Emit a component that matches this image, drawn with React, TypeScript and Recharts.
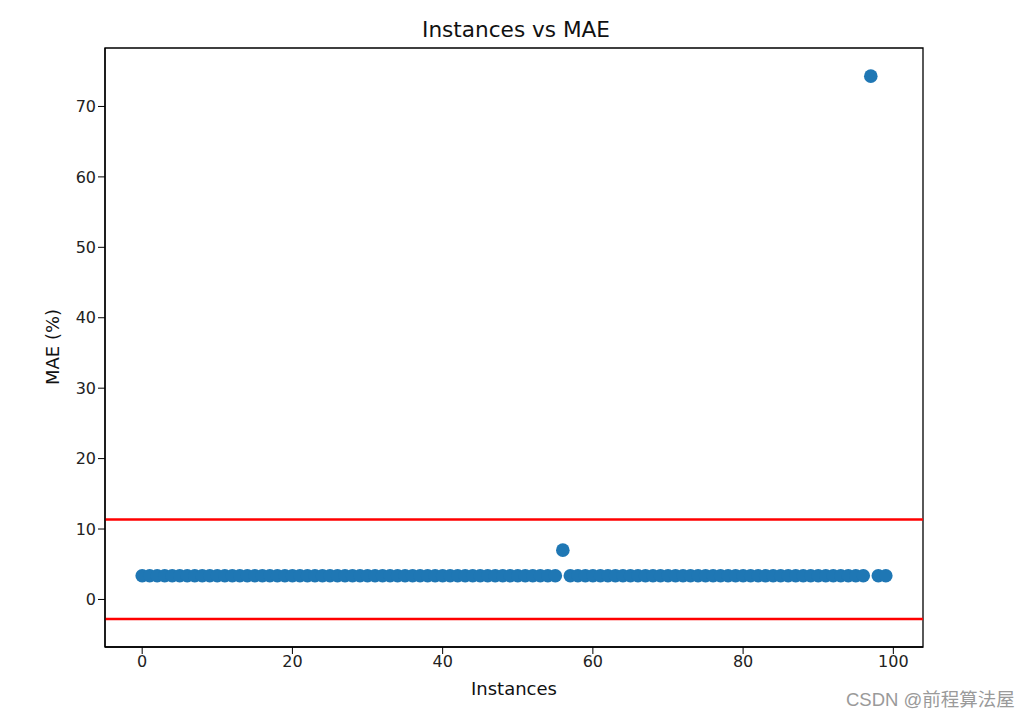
import React from 'react';
import { ScatterChart, Scatter, XAxis, YAxis, ReferenceLine, ReferenceArea } from 'recharts';

// MAE per instance (%)
const instances: number[] = Array.from({ length: 100 }, (_, i) => i);
const baseMae = 3.36;
const outliers: Record<number, number> = { 56: 7.0, 97: 74.3 };
const maeValues: number[] = instances.map(i => (i in outliers ? outliers[i] : baseMae));

const upperBound = 11.35;
const lowerBound = -2.76;

const xTicks = [0, 20, 40, 60, 80, 100];
const yTicks = [0, 10, 20, 30, 40, 50, 60, 70];

const data = instances.map((x, i) => ({ x, y: maeValues[i] }));

const font = '"DejaVu Sans", sans-serif';
const X_DOMAIN: [number, number] = [-4.95, 103.95];
const Y_DOMAIN: [number, number] = [-6.75, 78.3];

const Dot = (props: any) => <circle cx={props.cx} cy={props.cy} r={6.8} fill="#1f77b4" />;

export default function App() {
  return (
    <div style={{ position: 'absolute', left: 0, top: 0, width: 1033, height: 716, background: '#fff', fontFamily: font }}>
      <ScatterChart width={1033} height={716} margin={{ top: 48, right: 110, bottom: 29, left: 50 }}>
        <XAxis
          type="number"
          dataKey="x"
          domain={X_DOMAIN}
          ticks={xTicks}
          allowDataOverflow
          height={40}
          tick={{ fill: '#222', fontSize: 16, fontFamily: font }}
          tickSize={7}
          tickLine={{ stroke: '#000' }}
          axisLine={{ stroke: '#000', strokeWidth: 1.3 }}
        />
        <YAxis
          type="number"
          dataKey="y"
          domain={Y_DOMAIN}
          ticks={yTicks}
          allowDataOverflow
          width={55}
          tick={{ fill: '#222', fontSize: 16, fontFamily: font }}
          tickSize={7}
          tickLine={{ stroke: '#000' }}
          axisLine={{ stroke: '#000', strokeWidth: 1.3 }}
        />
        <ReferenceArea
          x1={X_DOMAIN[0]}
          x2={X_DOMAIN[1]}
          y1={Y_DOMAIN[0]}
          y2={Y_DOMAIN[1]}
          fill="none"
          stroke="#000"
          strokeWidth={1.3}
          ifOverflow="visible"
        />
        <ReferenceLine y={upperBound} stroke="#ff0000" strokeWidth={2.5} />
        <ReferenceLine y={lowerBound} stroke="#ff0000" strokeWidth={2.5} />
        <Scatter data={data} shape={Dot} isAnimationActive={false} />
      </ScatterChart>
      <div style={{ position: 'absolute', left: 2, width: 1028, top: 17, textAlign: 'center', fontSize: 21.6, color: '#111' }}>
        Instances vs MAE
      </div>
      <div style={{ position: 'absolute', left: 2, width: 1024, top: 678, textAlign: 'center', fontSize: 18, color: '#111' }}>
        Instances
      </div>
      <div
        style={{
          position: 'absolute',
          left: 51.5,
          top: 347,
          fontSize: 18,
          color: '#111',
          whiteSpace: 'nowrap',
          transform: 'translate(-50%, -50%) rotate(-90deg)',
        }}
      >
        MAE (%)
      </div>
      <div
        style={{
          position: 'absolute',
          left: 846,
          top: 685,
          fontSize: 18.5,
          color: '#9a9a9a',
          fontFamily: '"Liberation Sans", "Noto Sans CJK SC", sans-serif',
          whiteSpace: 'nowrap',
        }}
      >
        CSDN @前程算法屋
      </div>
    </div>
  );
}
